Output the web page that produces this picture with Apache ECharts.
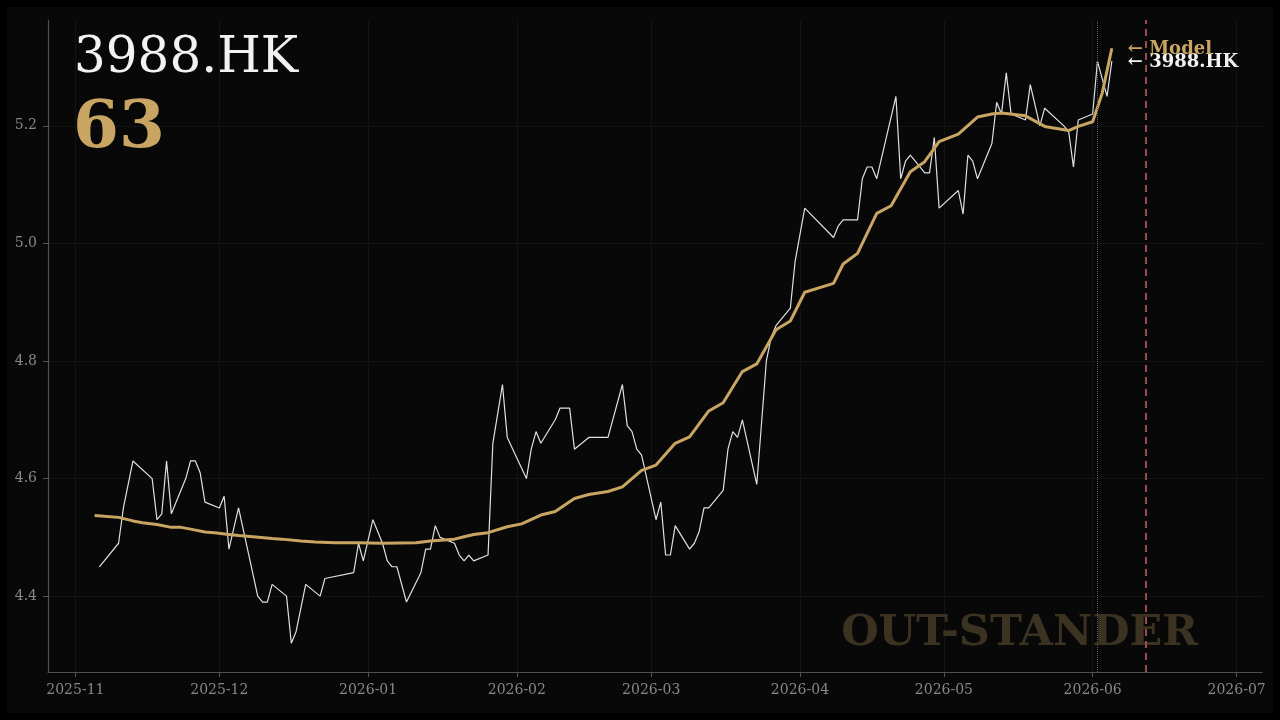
<!DOCTYPE html>
<html>
<head>
<meta charset="utf-8">
<script src="https://cdn.jsdelivr.net/npm/echarts@6/dist/echarts.min.js"></script>
<style>
  html, body { margin: 0; padding: 0; background: #000; }
  #chart { width: 1280px; height: 720px; }
</style>
</head>
<body>
<div id="chart"></div>
<script>
// 收盘价 (3988.HK)
const priceDates = [
  '2025-11-06','2025-11-10','2025-11-11','2025-11-13','2025-11-17','2025-11-18','2025-11-19','2025-11-20','2025-11-21',
  '2025-11-24','2025-11-25','2025-11-26','2025-11-27','2025-11-28','2025-12-01','2025-12-02','2025-12-03','2025-12-05',
  '2025-12-09','2025-12-10','2025-12-11','2025-12-12','2025-12-15','2025-12-16','2025-12-17','2025-12-19','2025-12-22',
  '2025-12-23','2025-12-29','2025-12-30','2025-12-31','2026-01-02','2026-01-04','2026-01-05','2026-01-06','2026-01-07',
  '2026-01-09','2026-01-12','2026-01-13','2026-01-14','2026-01-15','2026-01-16','2026-01-19','2026-01-20','2026-01-21',
  '2026-01-22','2026-01-23','2026-01-26','2026-01-27','2026-01-29','2026-01-30','2026-02-03','2026-02-04','2026-02-05',
  '2026-02-06','2026-02-09','2026-02-10','2026-02-12','2026-02-13','2026-02-16','2026-02-20','2026-02-23','2026-02-24',
  '2026-02-25','2026-02-26','2026-02-27','2026-03-02','2026-03-03','2026-03-04','2026-03-05','2026-03-06','2026-03-09',
  '2026-03-10','2026-03-11','2026-03-12','2026-03-13','2026-03-16','2026-03-17','2026-03-18','2026-03-19','2026-03-20',
  '2026-03-23','2026-03-25','2026-03-26','2026-03-27','2026-03-30','2026-03-31','2026-04-02','2026-04-08','2026-04-09',
  '2026-04-10','2026-04-13','2026-04-14','2026-04-15','2026-04-16','2026-04-17','2026-04-21','2026-04-22','2026-04-23',
  '2026-04-24','2026-04-26','2026-04-27','2026-04-28','2026-04-29','2026-04-30','2026-05-04','2026-05-05','2026-05-06',
  '2026-05-07','2026-05-08','2026-05-11','2026-05-12','2026-05-13','2026-05-14','2026-05-15','2026-05-18','2026-05-19',
  '2026-05-21','2026-05-22','2026-05-26','2026-05-27','2026-05-28','2026-05-29','2026-06-01','2026-06-02','2026-06-03',
  '2026-06-04','2026-06-05'
]
const priceValues = [
  4.45, 4.49, 4.55, 4.63, 4.60, 4.53, 4.54, 4.63, 4.54,
  4.60, 4.63, 4.63, 4.61, 4.56, 4.55, 4.57, 4.48, 4.55,
  4.40, 4.39, 4.39, 4.42, 4.40, 4.32, 4.34, 4.42, 4.40,
  4.43, 4.44, 4.49, 4.46, 4.53, 4.49, 4.46, 4.45, 4.45,
  4.39, 4.44, 4.48, 4.48, 4.52, 4.50, 4.49, 4.47, 4.46,
  4.47, 4.46, 4.47, 4.66, 4.76, 4.67, 4.60, 4.65, 4.68,
  4.66, 4.70, 4.72, 4.72, 4.65, 4.67, 4.67, 4.76, 4.69,
  4.68, 4.65, 4.64, 4.53, 4.56, 4.47, 4.47, 4.52, 4.48,
  4.49, 4.51, 4.55, 4.55, 4.58, 4.65, 4.68, 4.67, 4.70,
  4.59, 4.80, 4.84, 4.86, 4.89, 4.97, 5.06, 5.01, 5.03,
  5.04, 5.04, 5.11, 5.13, 5.13, 5.11, 5.25, 5.11, 5.14,
  5.15, 5.13, 5.12, 5.12, 5.18, 5.06, 5.09, 5.05, 5.15,
  5.14, 5.11, 5.17, 5.24, 5.22, 5.29, 5.22, 5.21, 5.27,
  5.20, 5.23, 5.20, 5.19, 5.13, 5.21, 5.22, 5.31, 5.28,
  5.25, 5.31
]

// 模型曲线
const modelDates = [
  '2025-11-05','2025-11-10','2025-11-13','2025-11-15','2025-11-18','2025-11-21','2025-11-23','2025-11-25','2025-11-28',
  '2025-11-30','2025-12-03','2025-12-05','2025-12-08','2025-12-12','2025-12-14','2025-12-18','2025-12-21','2025-12-25',
  '2025-12-30','2026-01-04','2026-01-11','2026-01-14','2026-01-19','2026-01-21','2026-01-23','2026-01-26','2026-01-30',
  '2026-02-02','2026-02-06','2026-02-09','2026-02-13','2026-02-16','2026-02-20','2026-02-23','2026-02-27','2026-03-02',
  '2026-03-06','2026-03-09','2026-03-13','2026-03-16','2026-03-20','2026-03-23','2026-03-27','2026-03-30','2026-04-02',
  '2026-04-08','2026-04-10','2026-04-13','2026-04-17','2026-04-20','2026-04-24','2026-04-27','2026-04-30','2026-05-04',
  '2026-05-08','2026-05-11','2026-05-13','2026-05-18','2026-05-22','2026-05-27','2026-05-29','2026-06-01','2026-06-03',
  '2026-06-05'
]
const modelValues = [
  4.537, 4.534, 4.528, 4.525, 4.522, 4.517, 4.517, 4.514, 4.509,
  4.508, 4.505, 4.503, 4.501, 4.498, 4.497, 4.494, 4.492, 4.491,
  4.491, 4.490, 4.491, 4.494, 4.497, 4.501, 4.505, 4.508, 4.518,
  4.523, 4.538, 4.544, 4.566, 4.573, 4.578, 4.586, 4.614, 4.623,
  4.660, 4.671, 4.715, 4.729, 4.782, 4.795, 4.853, 4.868, 4.917,
  4.932, 4.965, 4.983, 5.051, 5.064, 5.122, 5.139, 5.173, 5.186,
  5.215, 5.220, 5.222, 5.217, 5.199, 5.192, 5.199, 5.207, 5.256,
  5.332
]

const xTickLabels = ['2025-11','2025-12','2026-01','2026-02','2026-03','2026-04','2026-05','2026-06','2026-07']
const yTicks = [4.4, 4.6, 4.8, 5.0, 5.2]
const lastDataDate = '2026-06-02'
const horizonDate = '2026-06-12'
const tickerName = '3988.HK'
const scoreValue = '63'

const GOLD = '#c9a563'
const SERIF = '"DejaVu Serif", "Liberation Serif", serif'

// 日期字符串 -> 时间戳（本地时区）
const toTime = (s) => {
  const p = s.split(/[- :]/).map(Number)
  return new Date(p[0], p[1] - 1, p[2], p[3] || 0, p[4] || 0).getTime()
}
const xTickValues = xTickLabels.map((m) => toTime(m + '-01'))

const chart = echarts.init(document.getElementById('chart'), null, { renderer: 'canvas' })

const option = {
  backgroundColor: '#000',
  animation: false,
  grid: { left: 48, right: 18, top: 20, bottom: 48 },
  graphic: [
    {
      type: 'rect', z: -10, silent: true,
      shape: { x: 7, y: 7, width: 1266, height: 706 },
      style: { fill: '#080808' }
    },
    {
      type: 'text', left: 74, top: 34, z: 10,
      style: { text: tickerName, fill: '#f2f2f2', font: '50px ' + SERIF }
    },
    {
      type: 'text', left: 73, top: 97, z: 10,
      style: { text: scoreValue, fill: GOLD, font: 'bold 66px ' + SERIF }
    },
    {
      type: 'text', right: 82, top: 612, z: 1,
      style: { text: 'OUT-STANDER', fill: '#3b3222', font: 'bold 43px ' + SERIF }
    }
  ],
  xAxis: {
    type: 'value',
    min: toTime('2025-10-26 07:00'),
    max: toTime('2026-07-06 07:00'),
    axisLine: { lineStyle: { color: '#505050', width: 1.2 } },
    axisTick: { customValues: xTickValues, length: 5, lineStyle: { color: '#555' } },
    axisLabel: {
      customValues: xTickValues,
      color: '#888',
      fontFamily: SERIF,
      fontSize: 14,
      margin: 11,
      formatter: (v) => {
        const i = xTickValues.indexOf(v)
        return i >= 0 ? xTickLabels[i] : ''
      }
    },
    splitLine: { show: true, lineStyle: { color: '#131313', width: 1 } }
  },
  yAxis: {
    type: 'value',
    min: 4.271,
    max: 5.38,
    axisLine: { show: true, lineStyle: { color: '#505050', width: 1.2 } },
    axisTick: { show: true, customValues: yTicks, length: 5, lineStyle: { color: '#555' } },
    axisLabel: {
      customValues: yTicks,
      color: '#888',
      fontFamily: SERIF,
      fontSize: 14,
      margin: 11,
      formatter: (v) => v.toFixed(1)
    },
    splitLine: { show: true, lineStyle: { color: '#131313', width: 1 } }
  },
  series: [
    {
      name: tickerName,
      type: 'line',
      data: priceDates.map((d, i) => [toTime(d), priceValues[i]]),
      showSymbol: false,
      lineStyle: { color: '#e0e0e0', width: 1.2 },
      z: 3,
      endLabel: {
        show: true,
        formatter: '← ' + tickerName,
        color: '#f2f2f2',
        fontFamily: SERIF,
        fontWeight: 'bold',
        fontSize: 18,
        distance: 16,
        offset: [0, 1]
      },
      markLine: {
        silent: true,
        symbol: 'none',
        label: { show: false },
        data: [
          { xAxis: toTime(lastDataDate), lineStyle: { color: '#5a5a5a', type: 'dotted', width: 1 } },
          { xAxis: toTime(horizonDate), lineStyle: { color: '#9c4a4a', type: [7, 5], width: 2 } }
        ]
      }
    },
    {
      name: 'Model',
      type: 'line',
      data: modelDates.map((d, i) => [toTime(d), modelValues[i]]),
      showSymbol: false,
      lineStyle: { color: GOLD, width: 3 },
      z: 4,
      endLabel: {
        show: true,
        formatter: '← Model',
        color: GOLD,
        fontFamily: SERIF,
        fontWeight: 'bold',
        fontSize: 18,
        distance: 16,
        offset: [0, 1]
      }
    }
  ]
}

chart.setOption(option)
</script>
</body>
</html>
